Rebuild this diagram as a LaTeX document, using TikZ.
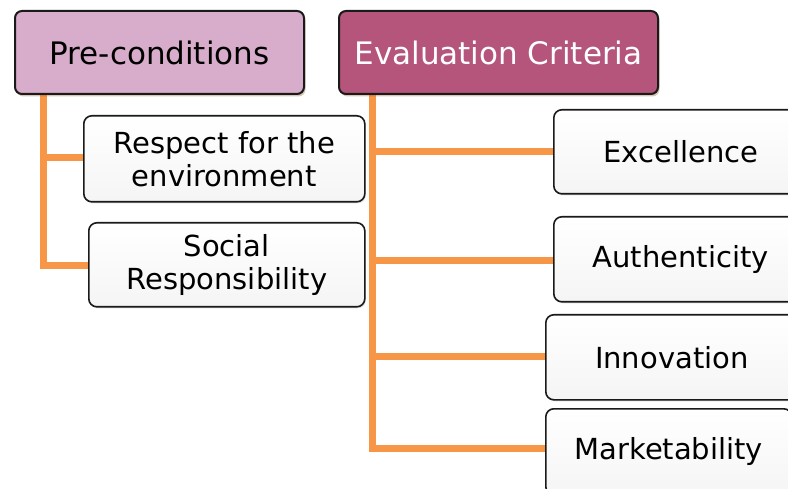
\documentclass[tikz,border=0pt]{standalone}
\usepackage{fontspec}
\setmainfont{DejaVu Sans}
\usetikzlibrary{shadows,backgrounds}
\definecolor{branch}{HTML}{F79646}
\definecolor{headlight}{HTML}{D8ADCB}
\definecolor{headdark}{HTML}{B5557B}
\definecolor{boxedge}{HTML}{1A1A1A}
\tikzset{
  x=1pt, y=-1pt,
  headbox/.style={draw=boxedge, line width=2pt, rounded corners=7pt,
    anchor=north west, inner sep=0pt, align=center,
    font=\fontsize{31}{33}\selectfont,
    drop shadow={shadow xshift=1.5pt, shadow yshift=-2.5pt, opacity=0.35, fill=branch!60!black}},
  itembox/.style={draw=boxedge, line width=1.6pt, rounded corners=8pt,
    anchor=north west, inner sep=0pt, align=center,
    top color=white, bottom color=black!4,
    font=\fontsize{29}{33}\selectfont,
    drop shadow={shadow xshift=1pt, shadow yshift=-1.5pt, opacity=0.25}},
  link/.style={draw=branch, line width=7pt}
}
\begin{document}
\begin{tikzpicture}
\useasboundingbox (0,0) rectangle (788,489);

% joints of the two trees
\coordinate (pt) at (43,93);
\coordinate (pj) at (43,266);
\coordinate (pi) at (43,158);
\coordinate (et) at (372,93);
\coordinate (e1) at (372,152);
\coordinate (e2) at (372,261);
\coordinate (e3) at (372,357);
\coordinate (e4) at (372,448);

% header boxes
\node[headbox, fill=headlight, minimum width=289pt, minimum height=83pt] (pre) at (14,10) {Pre-conditions};
\node[headbox, fill=headdark, text=white, minimum width=319pt, minimum height=83pt] (eval) at (338,10) {Evaluation Criteria};

% pre-condition items
\node[itembox, minimum width=281pt, minimum height=86pt] (resp) at (83,115) {Respect for the\\environment};
\node[itembox, minimum width=276pt, minimum height=84pt] (soc) at (88,222) {Social\\Responsibility};

% evaluation items
\node[itembox, minimum width=254pt, minimum height=84pt] (exc) at (553,109) {Excellence};
\node[itembox, minimum width=254pt, minimum height=85pt] (auth) at (553,216) {Authenticity};
\node[itembox, minimum width=252pt, minimum height=85pt] (inno) at (545,314) {Innovation};
\node[itembox, minimum width=246pt, minimum height=86pt] (mark) at (545,408) {Marketability};

% connectors, behind the boxes
\begin{scope}[on background layer]
\draw[link] (pt) -- (pj) -- (pj -| soc.west);
\draw[link] (pi) -- (pi -| resp.west);
\draw[link] (et) -- (e4) -- (e4 -| mark.west);
\draw[link] (e1) -- (e1 -| exc.west);
\draw[link] (e2) -- (e2 -| auth.west);
\draw[link] (e3) -- (e3 -| inno.west);
\end{scope}
\end{tikzpicture}
\end{document}
